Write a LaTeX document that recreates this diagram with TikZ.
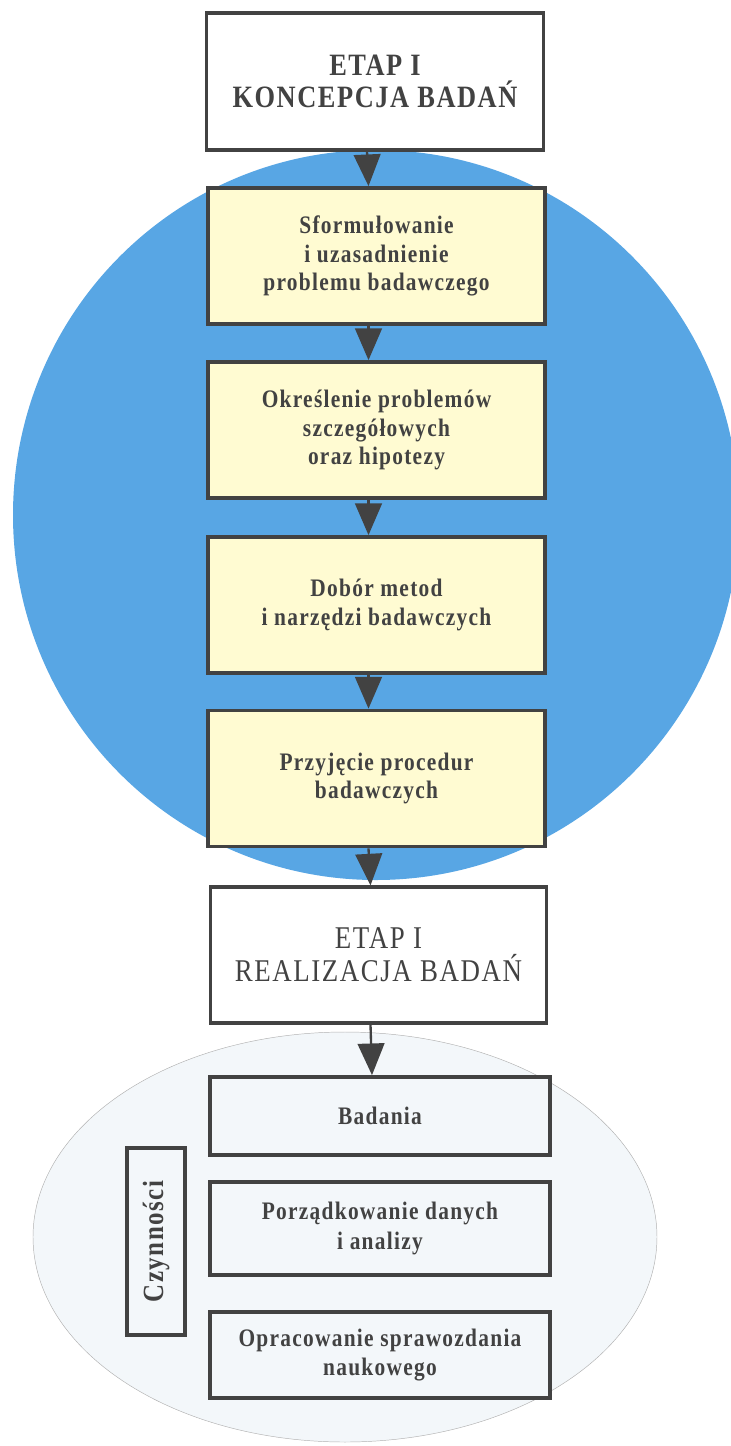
\documentclass[tikz,border=0pt]{standalone}
\usepackage{fontspec}
\setmainfont{Liberation Serif}
\newfontfamily\tallfont[FakeStretch=0.85,LetterSpace=5]{Liberation Serif}
\usetikzlibrary{arrows.meta}
\definecolor{ringblue}{RGB}{88,166,228}
\definecolor{boxyellow}{RGB}{255,251,210}
\definecolor{pale}{RGB}{243,247,250}
\definecolor{ink}{RGB}{66,66,66}

\begin{document}
\begin{tikzpicture}[x=0.03cm,y=-0.03cm,>={Triangle[width=0.8cm,length=0.95cm]},
  stage/.style={draw=ink,line width=2.6pt,fill=white,minimum width=10.1cm,align=center,text=ink},
  task/.style={stage,line width=3.2pt,fill=boxyellow,minimum height=4.08cm,font=\tallfont\bfseries\fontsize{21.5}{24}\selectfont},
  act/.style={stage,line width=3.2pt,fill=pale,minimum width=10.2cm,font=\tallfont\bfseries\fontsize{21.5}{25}\selectfont},
  flow/.style={->,ink,line width=2pt}]
\useasboundingbox (0,0) rectangle (731,1446);
\clip (0,0) rectangle (731,1446);
\fill[ringblue] (376,515) ellipse [x radius=363,y radius=365];
\draw[gray!60,fill=pale] (345,1237) ellipse [x radius=312,y radius=205];
\node[stage,minimum height=4.11cm,font=\tallfont\bfseries\fontsize{26.5}{27}\selectfont] (etapA) at (375,81.5){ETAP I\\KONCEPCJA BADAŃ};
\node[task] (sform) at (376.5,256){Sformułowanie\\i uzasadnienie\\problemu badawczego};
\node[task] (okresl) at (376.5,430){Określenie problemów\\szczegółowych\\oraz hipotezy};
\node[task] (dobor) at (376.5,605){Dobór metod\\i narzędzi badawczych};
\node[task] (przyj) at (376.5,778.5){Przyjęcie procedur\\badawczych};
\node[stage,minimum height=4.08cm,font=\tallfont\fontsize{27}{28}\selectfont] (etapB) at (378.5,955){ETAP I\\REALIZACJA BADAŃ};
\node[act,minimum height=2.34cm] (badania) at (380,1116){Badania};
\node[act,minimum height=2.79cm] (porz) at (380,1228.5){Porządkowanie danych\\i analizy};
\node[act,minimum height=2.58cm] (oprac) at (380,1355){Opracowanie sprawozdania\\naukowego};
\node[stage,line width=3.2pt,fill=pale,rotate=90,minimum width=5.61cm,minimum height=1.74cm,font=\tallfont\bfseries\fontsize{25}{26}\selectfont] (czyn) at (156,1241.5){Czynności};
\draw[flow] ([xshift=-0.24cm]etapA.south) -- ([xshift=-0.24cm]sform.north);
\draw[flow] ([xshift=-0.24cm]sform.south) -- ([xshift=-0.24cm]okresl.north);
\draw[flow] ([xshift=-0.24cm]okresl.south) -- ([xshift=-0.24cm]dobor.north);
\draw[flow] ([xshift=-0.24cm]dobor.south) -- ([xshift=-0.24cm]przyj.north);
\draw[flow] ([xshift=-0.24cm]przyj.south) -- ([xshift=-0.24cm]etapB.north);
\draw[flow] ([xshift=-0.24cm]etapB.south) -- ([xshift=-0.24cm]badania.north);
\end{tikzpicture}
\end{document}
